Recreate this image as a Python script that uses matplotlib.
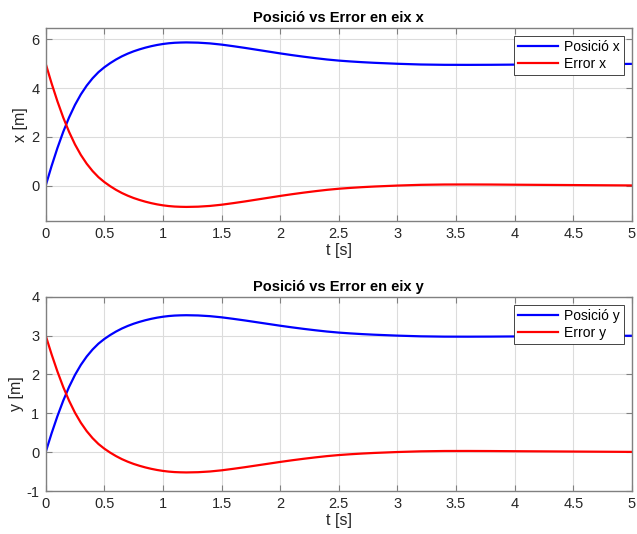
import matplotlib
matplotlib.use('Agg')
import matplotlib.pyplot as plt
from matplotlib.ticker import FormatStrFormatter

plt.rcParams['font.family'] = ['Liberation Sans', 'DejaVu Sans']

# temps [s]
t = [0, 0.05, 0.1, 0.15, 0.2, 0.25, 0.3, 0.35, 0.4, 0.45, 0.5, 0.55, 0.6, 0.65, 0.7, 0.75,
     0.8, 0.85, 0.9, 0.95, 1.0, 1.05, 1.1, 1.15, 1.2,
     1.3, 1.4, 1.5, 1.6, 1.7, 1.8, 1.9, 2.0, 2.1, 2.2, 2.3, 2.4, 2.5, 2.6, 2.7, 2.8, 2.9, 3.0,
     3.2, 3.4, 3.6, 3.8, 4.0, 4.5, 5.0]

# eix x
pos_x = [0, 0.80, 1.54, 2.21, 2.80, 3.31, 3.74, 4.10, 4.40, 4.65, 4.85, 5.02, 5.17, 5.30, 5.41, 5.505,
         5.585, 5.655, 5.715, 5.765, 5.805, 5.835, 5.855, 5.865, 5.87,
         5.86, 5.83, 5.78, 5.715, 5.645, 5.57, 5.495, 5.42, 5.35, 5.285, 5.225, 5.17, 5.125, 5.09, 5.06, 5.035, 5.015, 4.995,
         4.965, 4.952, 4.95, 4.953, 4.96, 4.975, 4.99]
err_x = [5, 4.20, 3.46, 2.79, 2.20, 1.69, 1.26, 0.90, 0.60, 0.35, 0.15, -0.02, -0.17, -0.30, -0.41, -0.505,
         -0.585, -0.655, -0.715, -0.765, -0.805, -0.835, -0.855, -0.865, -0.87,
         -0.86, -0.83, -0.78, -0.715, -0.645, -0.57, -0.495, -0.42, -0.35, -0.285, -0.225, -0.17, -0.125, -0.09, -0.06, -0.035, -0.015, 0.005,
         0.035, 0.048, 0.05, 0.047, 0.04, 0.025, 0.01]

# eix y
pos_y = [0, 0.48, 0.924, 1.326, 1.68, 1.986, 2.244, 2.46, 2.64, 2.79, 2.91, 3.012, 3.102, 3.18, 3.246, 3.303,
         3.351, 3.393, 3.429, 3.459, 3.483, 3.501, 3.513, 3.519, 3.522,
         3.516, 3.498, 3.468, 3.429, 3.387, 3.342, 3.297, 3.252, 3.21, 3.171, 3.135, 3.102, 3.075, 3.054, 3.036, 3.021, 3.009, 2.997,
         2.979, 2.971, 2.97, 2.972, 2.976, 2.985, 2.994]
err_y = [3, 2.52, 2.076, 1.674, 1.32, 1.014, 0.756, 0.54, 0.36, 0.21, 0.09, -0.012, -0.102, -0.18, -0.246, -0.303,
         -0.351, -0.393, -0.429, -0.459, -0.483, -0.501, -0.513, -0.519, -0.522,
         -0.516, -0.498, -0.468, -0.429, -0.387, -0.342, -0.297, -0.252, -0.21, -0.171, -0.135, -0.102, -0.075, -0.054, -0.036, -0.021, -0.009, 0.003,
         0.021, 0.029, 0.03, 0.028, 0.024, 0.015, 0.006]

xticks = [0, 0.5, 1, 1.5, 2, 2.5, 3, 3.5, 4, 4.5, 5]

fig = plt.figure(figsize=(6.37, 5.34), dpi=100)
ax1 = fig.add_axes([0.0717, 0.586, 0.9203, 0.362])
ax2 = fig.add_axes([0.0717, 0.0805, 0.9203, 0.364])


def estil(ax, titol, ylabel, ylim, yticks):
    ax.set_xlim(0, 5)
    ax.set_ylim(*ylim)
    ax.set_xticks(xticks)
    ax.set_yticks(yticks)
    ax.xaxis.set_major_formatter(FormatStrFormatter('%g'))
    ax.yaxis.set_major_formatter(FormatStrFormatter('%g'))
    ax.grid(True, color='#dcdcdc', linewidth=0.8)
    ax.set_axisbelow(True)
    ax.tick_params(direction='in', length=4, width=0.8, colors='#808080',
                   labelcolor='#262626', labelsize=10.5, top=True, right=True, pad=4.5)
    for s in ax.spines.values():
        s.set_color('#808080')
        s.set_linewidth(1.0)
    ax.set_title(titol, fontsize=10.5, fontweight='bold', pad=4)
    ax.set_xlabel('t [s]', fontsize=11.5, color='#262626', labelpad=1)
    ax.set_ylabel(ylabel, fontsize=11.5, color='#262626', labelpad=2)


ax1.plot(t, pos_x, color='#0000ff', linewidth=1.6, label='Posició x')
ax1.plot(t, err_x, color='#ff0000', linewidth=1.6, label='Error x')
estil(ax1, 'Posició vs Error en eix x', 'x [m]', (-1.45, 6.47), [0, 2, 4, 6])

ax2.plot(t, pos_y, color='#0000ff', linewidth=1.6, label='Posició y')
ax2.plot(t, err_y, color='#ff0000', linewidth=1.6, label='Error y')
estil(ax2, 'Posició vs Error en eix y', 'y [m]', (-1, 4), [-1, 0, 1, 2, 3, 4])

for ax in (ax1, ax2):
    leg = ax.legend(loc='upper right', fontsize=10, fancybox=False, framealpha=1,
                    edgecolor='#262626', handlelength=2.9, handletextpad=0.4,
                    borderpad=0.3, labelspacing=0.2, borderaxespad=0.6)
    leg.get_frame().set_linewidth(0.6)

fig.savefig('out.png', dpi=100)
